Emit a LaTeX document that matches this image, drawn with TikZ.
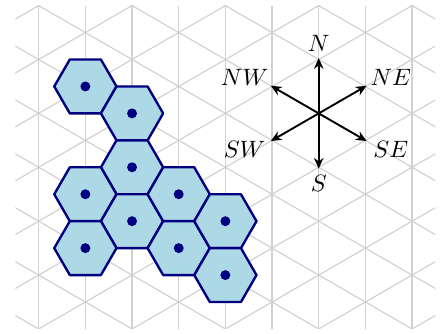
\documentclass[tikz,border=0pt]{standalone}
\usepackage{amsmath,amssymb}
\usepackage{tikz}
\usetikzlibrary{arrows.meta}

\definecolor{cellblue}{HTML}{ADD8E6}
\definecolor{celledge}{HTML}{000080}

\begin{document}
\begin{tikzpicture}[
	  x=0.6928cm, y=0.8cm,
	  gridline/.style={draw=black!18, line width=0.5pt},
	  cell/.style={draw=celledge, line width=1pt, fill=cellblue, line join=round},
	  dot/.style={circle, fill=celledge, inner sep=0pt, minimum size=4.2pt},
	  dir/.style={thick, -{Stealth[length=4.5pt,width=4pt]}},
	]
	
	\useasboundingbox (-0.829,-0.093) rectangle (8.727,6.104);
	
	% Triangular grid
	\begin{scope}
		\clip (-0.5,0) rectangle (8.5,6);
		\foreach \c in {0,...,8}
			\draw[gridline] (\c,0) -- (\c,6);
		\foreach \k in {-5,...,7}
			\draw[gridline] (-1,\k-0.5) -- (9,\k+4.5);
		\foreach \k in {-1,...,11}
			\draw[gridline] (-1,\k+0.5) -- (9,\k-4.5);
	\end{scope}
	
	% Cells
	\def\hexr{0.4619cm}
	\foreach \n/\cx/\cy in {1/1/4.5, 2/2/4, 3/2/3, 4/1/2.5, 5/2/2,
	                        6/3/2.5, 7/1/1.5, 8/3/1.5, 9/4/2, 10/4/1} {
		\coordinate (cell\n) at (\cx,\cy);
		\draw[cell] ([shift={(0:\hexr)}]cell\n)
			\foreach \a in {60,120,...,300} { -- ([shift={(\a:\hexr)}]cell\n) } -- cycle;
		\node[dot] (dot\n) at (cell\n) {};
	}
	
	% Compass
	\coordinate (compass) at (6,4);
	\foreach \a/\d in {90/N, 30/NE, -30/SE, -90/S, -150/SW, 150/NW} {
		\coordinate (tip\d) at ([shift={(\a:0.82cm)}]compass);
		\draw[dir] (compass) -- (tip\d);
	}
	
	% Labels
	\foreach \d/\sx/\sy in {N/0/1.04, NE/1.07/0.54, SE/1.07/-0.54,
	                        S/0/-1.04, SW/-1.10/-0.53, NW/-1.10/0.54}
		\node (lbl\d) at ([shift={(\sx cm,\sy cm)}]compass) {$\d$};
	
\end{tikzpicture}
\end{document}
